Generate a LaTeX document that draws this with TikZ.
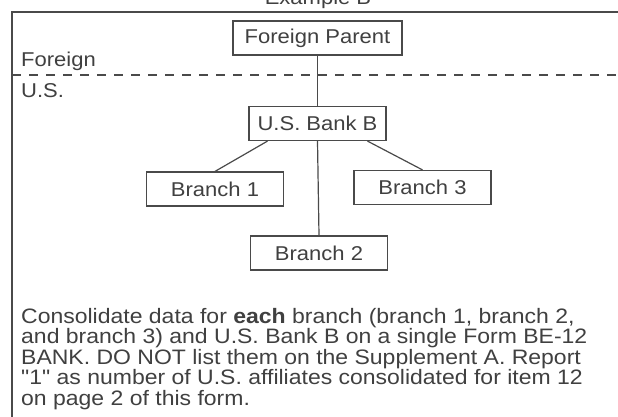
\documentclass[tikz,border=0pt]{standalone}
\usepackage{fontspec}
\setmainfont{Liberation Sans}[FakeStretch=1.1]
\newfontfamily\qfont{Liberation Sans}[FakeStretch=1.1]
\definecolor{ink}{HTML}{404040}
\definecolor{rule}{HTML}{4A4A4A}
\tikzset{
  box/.style={draw=rule, line width=1.2pt, text=ink, minimum width=137pt, minimum height=34pt, inner sep=0pt, font=\fontsize{20}{24}\selectfont},
  conn/.style={draw=rule, line width=1.2pt},
  body/.style={text=ink, anchor=base west, inner sep=0pt, font=\fontsize{20.9}{21}\selectfont},
  lbl/.style={text=ink, anchor=base west, inner sep=0pt, font=\fontsize{20}{24}\selectfont}
}
\begin{document}
\begin{tikzpicture}[x=1pt,y=-1pt]
\useasboundingbox (0,0) rectangle (618,417);
\fill[white] (0,0) rectangle (618,417);
% title (cut by top edge)
\node[text=ink, anchor=base, inner sep=0pt, font=\fontsize{20}{24}\selectfont] (title) at (318,5) {Example B};
% frame
\coordinate (fr) at (620,12);
\coordinate (fc) at (12,12);
\coordinate (fb) at (12,420);
\draw[conn] (fr) -- (fc) -- (fb);
% dashed border
\coordinate (dl) at (12,75);
\coordinate (dr) at (620,75);
\draw[conn, dash pattern=on 9pt off 8pt] (dl) -- (dr);
\node[lbl] (foreign) at (21,67) {Foreign};
\node[lbl] (us) at (21,98) {U.S.};
% boxes
\node[box, minimum width=169pt] (fp) at (317.5,38) {Foreign Parent};
\node[box] (bank) at (317.5,123.5) {U.S. Bank B};
\node[box] (b1) at (215,189) {Branch 1};
\node[box] (b3) at (422.5,187.5) {Branch 3};
\node[box] (b2) at (319,253) {Branch 2};
% connectors
\draw[conn] (fp.south) -- (bank.north);
\draw[conn] ([xshift=-50pt]bank.south) -- (b1.north);
\draw[conn] ([xshift=50pt]bank.south) -- (b3.north);
\draw[conn] (bank.south) -- (b2.north);
% body text
\node[body] (t1) at (21,323) {Consolidate data for \textbf{each} branch (branch 1, branch 2,};
\node[body] (t2) at (21,343.5) {and branch 3) and U.S. Bank B on a single Form BE-12};
\node[body] (t3) at (21,364) {BANK. DO NOT list them on the Supplement A. Report};
\node[body] (t4) at (21,384.5) {{\qfont"1"} as number of U.S. affiliates consolidated for item 12};
\node[body] (t5) at (21,405) {on page 2 of this form.};
\end{tikzpicture}
\end{document}
